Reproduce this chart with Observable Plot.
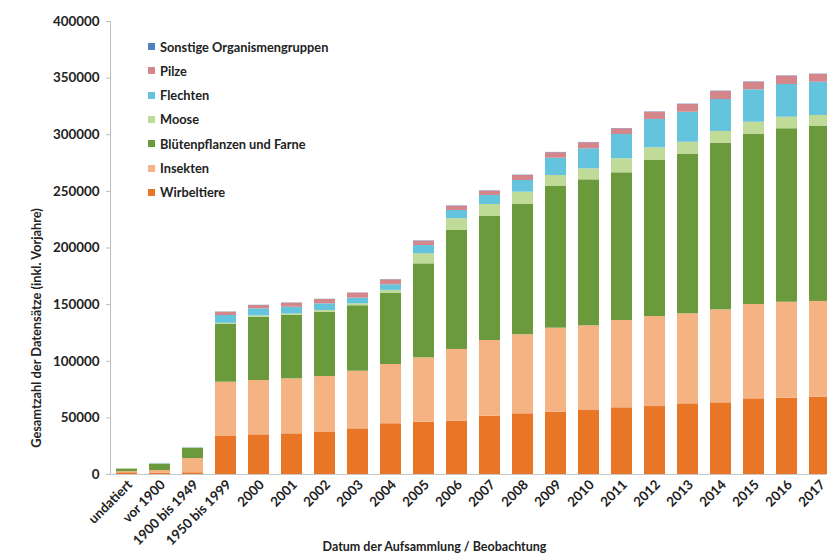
<!DOCTYPE html>
<html><head><meta charset="utf-8">
<script src="https://cdn.jsdelivr.net/npm/d3@7"></script>
<script src="https://cdn.jsdelivr.net/npm/@observablehq/plot@0.6"></script>
<style>
html,body{margin:0;padding:0;background:#fff;overflow:hidden;}
#wrap{position:relative;width:827px;height:553px;overflow:hidden;}
#legend{position:absolute;left:0;top:0;font-family:Lato,"Open Sans",sans-serif;font-weight:700;font-size:12.8px;color:#222;}
.item{position:absolute;white-space:nowrap;height:14px;line-height:14px;}
.sw{position:absolute;left:0;top:3.5px;width:7px;height:7px;}
.lbl{position:absolute;left:12px;top:0;}
</style></head>
<body><div id="wrap"></div>
<script>
const categories = ["undatiert","vor 1900","1900 bis 1949","1950 bis 1999","2000","2001","2002","2003","2004","2005","2006","2007","2008","2009","2010","2011","2012","2013","2014","2015","2016","2017"];
const seriesNames = ["Wirbeltiere","Insekten","Blütenpflanzen und Farne","Moose","Flechten","Pilze","Sonstige Organismengruppen"];
const seriesColors = ["#e97626","#f5b283","#6b9a3c","#c0da98","#64c3dd","#d4868a","#4f81bd"];
const wirbeltiere = [1500,1000,1500,33600,35000,35900,37100,40300,44800,46200,47100,51500,53600,55000,56500,58900,60000,62400,63300,66800,67400,68300];
const insekten = [1000,2500,12600,47900,48000,48600,49400,50900,52300,56800,63300,66800,69800,74200,74800,77100,79500,79500,82100,83300,84700,84500];
const bluetenpflanzen = [2300,5500,9000,51000,55900,55900,56800,57800,63000,83000,105100,109500,115000,125100,128900,130400,137800,140700,147100,150100,153200,154500];
const moose = [200,400,500,1000,1200,1300,1500,1700,2500,8900,10300,10600,10900,9700,9700,12400,11200,10800,10400,10900,10200,9700];
const flechten = [0,300,200,6900,6200,6000,5900,5000,4900,7300,7300,8000,10300,15300,17700,21400,25000,26500,28200,28600,28900,29400];
const pilze = [0,100,100,2900,2900,3600,3800,4400,4400,3800,3800,3800,4400,4800,5300,5000,6400,6800,7100,6700,7300,6800];
const sonstige = [0,0,0,200,200,200,200,200,200,300,300,300,300,300,300,300,300,300,300,300,300,300];
const yTicks = [0,50000,100000,150000,200000,250000,300000,350000,400000];
const xTitle = "Datum der Aufsammlung / Beobachtung";
const yTitle = "Gesamtzahl der Datensätze (inkl. Vorjahre)";

const seriesValues = [wirbeltiere, insekten, bluetenpflanzen, moose, flechten, pilze, sonstige];
const data = [];
seriesNames.forEach((s, j) => seriesValues[j].forEach((v, i) => data.push({cat: categories[i], series: s, value: v})));

const chart = Plot.plot({
  width: 827, height: 553,
  marginLeft: 110, marginRight: -9, marginTop: 21, marginBottom: 79,
  style: {fontFamily: "Lato, 'Open Sans', sans-serif", fontWeight: "bold", fontSize: "12px", color: "#222", overflow: "hidden", background: "#fff"},
  x: {domain: categories, paddingInner: 0.364, paddingOuter: 0.182},
  y: {domain: [0, 400000]},
  color: {domain: seriesNames, range: seriesColors},
  marks: [
    Plot.barY(data, Plot.stackY({x: "cat", y: "value", fill: "series"})),
    Plot.ruleY([0], {stroke: "#c8c8c8"}),
    Plot.frame({anchor: "left", stroke: "#bdbdbd"}),
    Plot.axisY({ticks: yTicks, tickFormat: d3.format("d"), tickSize: 4, tickPadding: 7, stroke: "#bdbdbd", fill: "#222", fontSize: 13.4, label: null}),
    Plot.axisX({tickRotate: -45, tickSize: 0, tickPadding: 8, fill: "#222", fontSize: 13.4, dx: 3, label: null}),
    Plot.text([xTitle], {frameAnchor: "bottom", textAnchor: "middle", lineAnchor: "middle", dx: -39, dy: 72, fontSize: 12.5, fontWeight: "bold", fill: "#222"}),
    Plot.text([yTitle], {frameAnchor: "left", textAnchor: "middle", lineAnchor: "middle", rotate: -90, dx: -74, dy: 80, fontSize: 12.8, fontWeight: "bold", fill: "#222"})
  ]
});
document.getElementById("wrap").appendChild(chart);

const legend = document.createElement("div");
legend.id = "legend";
const order = seriesNames.map((s, i) => i).reverse();
order.forEach((j, k) => {
  const it = document.createElement("div");
  it.className = "item";
  it.style.left = "148px";
  it.style.top = (39.5 + k * 24.3) + "px";
  const sw = document.createElement("span");
  sw.className = "sw";
  sw.style.background = seriesColors[j];
  const tx = document.createElement("span");
  tx.className = "lbl";
  tx.textContent = seriesNames[j];
  it.appendChild(sw); it.appendChild(tx);
  legend.appendChild(it);
});
document.getElementById("wrap").appendChild(legend);
</script>
</body></html>
